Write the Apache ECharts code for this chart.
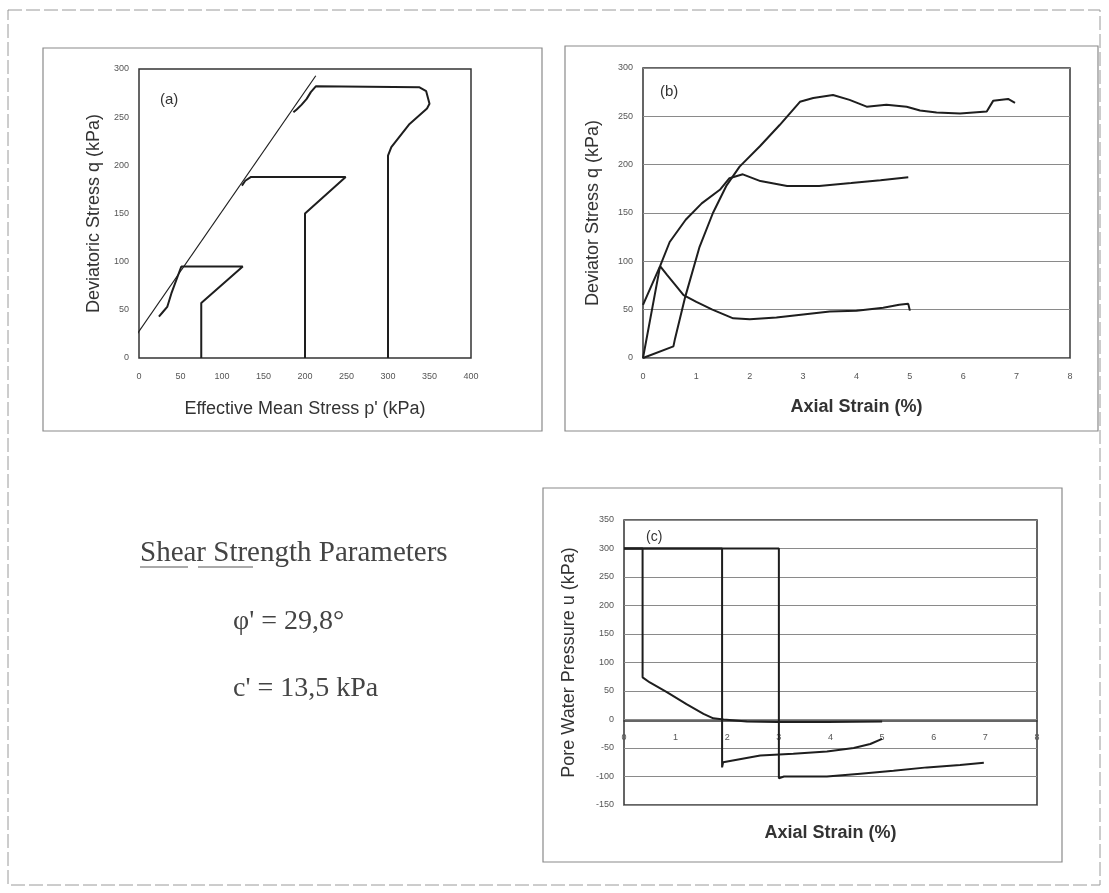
<!DOCTYPE html>
<html>
<head>
<meta charset="utf-8">
<script src="https://cdn.jsdelivr.net/npm/echarts@6/dist/echarts.min.js"></script>
<style>
html,body{margin:0;padding:0;background:#fff;}
#main{width:1109px;height:893px;}
</style>
</head>
<body>
<div id="main"></div>
<script>
// ---------- Chart (a): stress paths q vs p' ----------
const aTicksX = [0, 50, 100, 150, 200, 250, 300, 350, 400];
const aTicksY = [0, 50, 100, 150, 200, 250, 300];
const aFailP = [-7, 213];
const aFailQ = [19, 293];
const aTest1P = [75, 75, 125, 51, 45, 39, 34, 29, 24];
const aTest1Q = [0, 57, 95, 95, 81, 67, 53, 48, 43];
const aTest2P = [200, 200, 249, 135, 128, 124];
const aTest2Q = [0, 150, 188, 188, 184, 179];
const aTest3P = [300, 300, 304, 326, 347, 350, 346, 338, 213, 207, 202, 196, 190, 186];
const aTest3Q = [0, 210, 219, 243, 259, 264, 277, 281, 282, 276, 269, 263, 258, 255];

// ---------- Chart (b): q vs axial strain ----------
const bCurve1E = [0, 0.32, 0.45, 0.6, 0.76, 1.0, 1.3, 1.69, 2.0, 2.5, 3.0, 3.5, 4.0, 4.5, 4.8, 4.97, 5.0];
const bCurve1Q = [0, 95, 86, 76, 65, 58, 50, 41, 40, 42, 45, 48, 49, 52, 55, 56, 49];
const bCurve2E = [0, 0.32, 0.5, 0.8, 1.1, 1.44, 1.62, 1.87, 2.2, 2.7, 3.3, 3.9, 4.45, 4.97];
const bCurve2Q = [55, 95, 120, 143, 160, 174, 186, 190, 183, 178, 178, 181, 184, 187];
const bCurve3E = [0, 0.57, 0.6, 0.79, 1.06, 1.31, 1.56, 1.81, 2.19, 2.56, 2.94, 3.19, 3.56, 3.87, 4.19, 4.56, 4.94, 5.19, 5.5, 5.94, 6.44, 6.56, 6.84, 6.97];
const bCurve3Q = [0, 12, 20, 63, 115, 150, 178, 198, 219, 241, 265, 269, 272, 267, 260, 262, 260, 256, 254, 253, 255, 266, 268, 264];

// ---------- Chart (c): pore water pressure vs axial strain ----------
const cCurve1E = [0, 0.36, 0.36, 0.5, 0.83, 1.21, 1.54, 1.73, 1.93, 2.38, 2.96, 3.93, 5.0];
const cCurve1U = [300, 300, 74, 65, 48, 27, 10, 2, 0, -3.5, -4.5, -4.5, -3.5];
const cCurve2E = [0, 1.9, 1.9, 1.92, 2.64, 3.28, 3.93, 4.45, 4.77, 5.0];
const cCurve2U = [300, 300, -84, -75, -63, -60, -56, -50, -43, -34];
const cCurve3E = [0, 3.0, 3.0, 3.1, 3.93, 4.58, 5.22, 5.87, 6.51, 6.97];
const cCurve3U = [300, 300, -103, -100, -100, -95, -90, -84, -80, -76];

const zip = (xs, ys) => xs.map((x, i) => [x, ys[i]]);

const INK = '#1e1e1e';
const LBL = '#555';
const sans = 'Liberation Sans, Arial, sans-serif';
const serif = 'Liberation Serif, Times New Roman, serif';

function lineSeries(xi, yi, xs, ys, width, clip) {
  return {
    type: 'line', xAxisIndex: xi, yAxisIndex: yi,
    data: zip(xs, ys), showSymbol: false, symbol: 'none',
    clip: clip !== false, animation: false,
    lineStyle: { color: INK, width: width || 2 }
  };
}

function axisX(gi, min, max, interval, name, nameGap, bold, labelMargin) {
  return {
    type: 'value', gridIndex: gi, min, max, interval,
    name, nameLocation: 'middle', nameGap,
    nameTextStyle: { fontFamily: sans, fontSize: 18, color: '#333', fontWeight: bold ? 'bold' : 'normal' },
    axisLine: { show: false, onZero: false },
    axisTick: { show: false },
    axisLabel: { fontFamily: sans, fontSize: 9, color: LBL, margin: labelMargin || 14 },
    splitLine: { show: false }
  };
}
function axisY(gi, min, max, interval, name, nameGap, grid) {
  return {
    type: 'value', gridIndex: gi, min, max, interval,
    name, nameLocation: 'middle', nameGap,
    nameTextStyle: { fontFamily: sans, fontSize: 18, color: '#333' },
    axisLine: { show: false, onZero: false },
    axisTick: { show: false },
    axisLabel: { fontFamily: sans, fontSize: 9, color: LBL, margin: 10 },
    splitLine: { show: !!grid, lineStyle: { color: '#8a8a8a', width: 1 } }
  };
}

const chart = echarts.init(document.getElementById('main'), null, { renderer: 'canvas' });

// (c) x axis drawn along u = 0, with labels just below it
const xC = axisX(2, 0, 8, 1, 'Axial Strain (%)', 103, true, 12);
xC.offset = -84;
xC.axisLine = { show: true, onZero: false, lineStyle: { color: '#333', width: 1.5 } };

const gridBase = { show: true, borderColor: '#333', borderWidth: 1.5, backgroundColor: 'transparent', containLabel: false, outerBoundsMode: 'none' };

chart.setOption({
  animation: false,
  backgroundColor: '#ffffff',
  grid: [
    Object.assign({ left: 139, top: 69, width: 332, height: 289 }, gridBase),
    Object.assign({ left: 643, top: 68, width: 427, height: 290 }, gridBase),
    Object.assign({ left: 624, top: 520, width: 413, height: 285 }, gridBase)
  ],
  xAxis: [
    axisX(0, 0, 400, 50, "Effective Mean Stress p' (kPa)", 42, false),
    axisX(1, 0, 8, 1, 'Axial Strain (%)', 40, true),
    xC
  ],
  yAxis: [
    axisY(0, 0, 300, 50, 'Deviatoric Stress q (kPa)', 36, false),
    axisY(1, 0, 300, 50, 'Deviator Stress q (kPa)', 41, true),
    axisY(2, -150, 350, 50, 'Pore Water Pressure u (kPa)', 46, true)
  ],
  series: [
    lineSeries(0, 0, aFailP, aFailQ, 1.2, false),
    lineSeries(0, 0, aTest1P, aTest1Q, 2),
    lineSeries(0, 0, aTest2P, aTest2Q, 2),
    lineSeries(0, 0, aTest3P, aTest3Q, 2),
    lineSeries(1, 1, bCurve1E, bCurve1Q, 2),
    lineSeries(1, 1, bCurve2E, bCurve2Q, 2),
    lineSeries(1, 1, bCurve3E, bCurve3Q, 2),
    lineSeries(2, 2, cCurve1E, cCurve1U, 2),
    lineSeries(2, 2, cCurve2E, cCurve2U, 2),
    lineSeries(2, 2, cCurve3E, cCurve3U, 2)
  ],
  graphic: [
    // outer figure frame
    { type: 'rect', shape: { x: 8, y: 10, width: 1092, height: 875 }, style: { fill: 'none', stroke: '#9a9a9a', lineWidth: 1, lineDash: [14, 4] }, silent: true, z: -1 },
    // panel frames
    { type: 'rect', shape: { x: 43, y: 48, width: 499, height: 383 }, style: { fill: 'none', stroke: '#8a8a8a', lineWidth: 1.2 }, silent: true, z: -1 },
    { type: 'rect', shape: { x: 565, y: 46, width: 533, height: 385 }, style: { fill: 'none', stroke: '#8a8a8a', lineWidth: 1.2 }, silent: true, z: -1 },
    { type: 'rect', shape: { x: 543, y: 488, width: 519, height: 374 }, style: { fill: 'none', stroke: '#8a8a8a', lineWidth: 1.2 }, silent: true, z: -1 },
    // panel labels
    { type: 'text', left: 160, top: 92, style: { text: '(a)', font: '15px ' + sans, fill: '#333' } },
    { type: 'text', left: 660, top: 84, style: { text: '(b)', font: '15px ' + sans, fill: '#333' } },
    { type: 'text', left: 646, top: 530, style: { text: '(c)', font: '14px ' + sans, fill: '#333' } },
    // shear strength parameters text
    { type: 'text', x: 140, y: 553, style: { text: 'Shear Strength Parameters', font: '29px ' + serif, fill: '#444', textVerticalAlign: 'middle' } },
    { type: 'line', shape: { x1: 140, y1: 567, x2: 188, y2: 567 }, style: { stroke: '#555', lineWidth: 1 } },
    { type: 'line', shape: { x1: 198, y1: 567, x2: 253, y2: 567 }, style: { stroke: '#555', lineWidth: 1 } },
    { type: 'text', x: 233, y: 622, style: { text: "φ' = 29,8°", font: '28px ' + serif, fill: '#444', textVerticalAlign: 'middle' } },
    { type: 'text', x: 233, y: 689, style: { text: "c' = 13,5 kPa", font: '28px ' + serif, fill: '#444', textVerticalAlign: 'middle' } }
  ]
});
</script>
</body>
</html>
